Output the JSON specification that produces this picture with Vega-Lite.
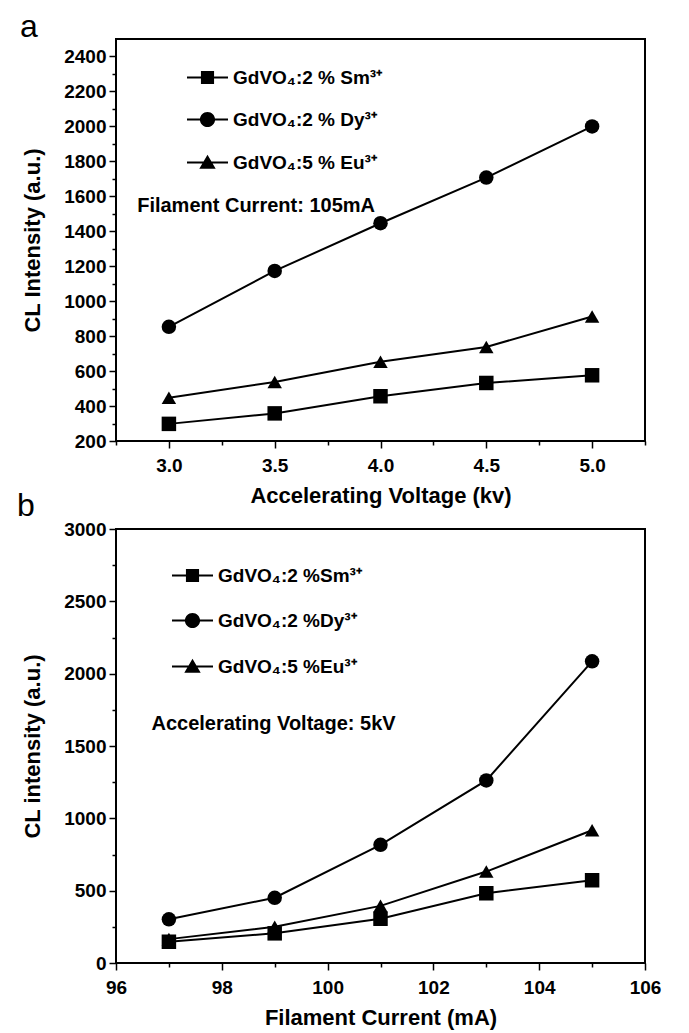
{
  "$schema": "https://vega.github.io/schema/vega-lite/v6.json",
  "background": "white",
  "padding": {"left": 16, "top": 10, "right": 10, "bottom": 2},
  "spacing": -18,
  "resolve": {"scale": {"shape": "independent"}, "legend": {"shape": "independent"}},
  "config": {
    "view": {"stroke": "black", "strokeWidth": 2},
    "axis": {"labelFont": "Liberation Sans", "labelFontWeight": "bold", "labelFontSize": 19, "labelColor": "black", "titleFont": "Liberation Sans", "titleFontWeight": "bold", "titleFontSize": 22, "titleColor": "black", "tickColor": "black", "tickWidth": 1.5, "domain": false, "grid": false, "labelOverlap": false, "labelFlush": false, "tickCount": 100},
    "title": {"font": "Liberation Sans", "fontSize": 32, "fontWeight": "normal", "color": "black"}
  },
  "datasets": {
    "a": [
      {"series": "Sm", "voltage_kv": 3.0, "intensity": 298},
      {"series": "Sm", "voltage_kv": 3.5, "intensity": 358},
      {"series": "Sm", "voltage_kv": 4.0, "intensity": 456},
      {"series": "Sm", "voltage_kv": 4.5, "intensity": 532},
      {"series": "Sm", "voltage_kv": 5.0, "intensity": 576},
      {"series": "Dy", "voltage_kv": 3.0, "intensity": 853},
      {"series": "Dy", "voltage_kv": 3.5, "intensity": 1173},
      {"series": "Dy", "voltage_kv": 4.0, "intensity": 1446},
      {"series": "Dy", "voltage_kv": 4.5, "intensity": 1707},
      {"series": "Dy", "voltage_kv": 5.0, "intensity": 2000},
      {"series": "Eu", "voltage_kv": 3.0, "intensity": 447},
      {"series": "Eu", "voltage_kv": 3.5, "intensity": 538},
      {"series": "Eu", "voltage_kv": 4.0, "intensity": 653},
      {"series": "Eu", "voltage_kv": 4.5, "intensity": 738},
      {"series": "Eu", "voltage_kv": 5.0, "intensity": 912}
    ],
    "b": [
      {"series": "Sm", "current_mA": 97, "intensity": 147},
      {"series": "Sm", "current_mA": 99, "intensity": 205},
      {"series": "Sm", "current_mA": 101, "intensity": 306},
      {"series": "Sm", "current_mA": 103, "intensity": 482},
      {"series": "Sm", "current_mA": 105, "intensity": 572},
      {"series": "Dy", "current_mA": 97, "intensity": 302},
      {"series": "Dy", "current_mA": 99, "intensity": 451},
      {"series": "Dy", "current_mA": 101, "intensity": 817},
      {"series": "Dy", "current_mA": 103, "intensity": 1262},
      {"series": "Dy", "current_mA": 105, "intensity": 2085},
      {"series": "Eu", "current_mA": 97, "intensity": 165},
      {"series": "Eu", "current_mA": 99, "intensity": 250},
      {"series": "Eu", "current_mA": 101, "intensity": 395},
      {"series": "Eu", "current_mA": 103, "intensity": 632},
      {"series": "Eu", "current_mA": 105, "intensity": 918}
    ]
  },
  "vconcat": [
    {
      "width": 529,
      "height": 402,
      "title": {"text": "a", "anchor": "start", "frame": "group", "dx": -96, "offset": -5},
      "resolve": {"scale": {"shape": "independent"}},
      "layer": [
        {
          "data": {"name": "a"},
          "mark": {"type": "line", "color": "black", "strokeWidth": 2},
          "encoding": {
            "x": {"field": "voltage_kv", "type": "quantitative", "scale": {"domain": [2.75, 5.25], "nice": false, "zero": false},
              "axis": {"title": "Accelerating Voltage (kv)", "tickCount": 100, "values": [2.75, 3, 3.25, 3.5, 3.75, 4, 4.25, 4.5, 4.75, 5, 5.25], "labelExpr": "(datum.value * 2) % 1 === 0 ? format(datum.value, '.1f') : ''", "labelFontSize": {"condition": {"test": "(datum.value * 2) % 1 === 0", "value": 19}, "value": 0}, "tickSize": {"condition": {"test": "(datum.value * 2) % 1 === 0", "value": 7}, "value": 4}, "labelPadding": 8, "titlePadding": 10, "labelOverlap": false}},
            "y": {"field": "intensity", "type": "quantitative", "scale": {"domain": [200, 2500], "nice": false, "zero": false},
              "axis": {"title": "CL Intensity (a.u.)", "tickCount": 100, "values": [200, 300, 400, 500, 600, 700, 800, 900, 1000, 1100, 1200, 1300, 1400, 1500, 1600, 1700, 1800, 1900, 2000, 2100, 2200, 2300, 2400], "format": "d", "labelExpr": "datum.value % 200 === 0 ? datum.label : ''", "labelFontSize": {"condition": {"test": "datum.value % 200 === 0", "value": 19}, "value": 0}, "tickSize": {"condition": {"test": "datum.value % 200 === 0", "value": 7}, "value": 4}, "labelPadding": 3, "titlePadding": 19, "labelOverlap": false}},
            "detail": {"field": "series"}
          }
        },
        {
          "data": {"name": "a"},
          "mark": {"type": "point", "filled": true, "color": "black", "opacity": 1, "size": 210},
          "encoding": {
            "x": {"field": "voltage_kv", "type": "quantitative"},
            "y": {"field": "intensity", "type": "quantitative"},
            "shape": {"field": "series", "type": "nominal", "scale": {"domain": ["Sm", "Dy", "Eu"], "range": ["square", "circle", "triangle-up"]}, "legend": null}
          }
        },
        {
          "data": {"name": "a"},
          "mark": {"type": "point", "filled": true, "color": "black", "opacity": 0, "size": 210},
          "encoding": {
            "x": {"field": "voltage_kv", "type": "quantitative"},
            "y": {"field": "intensity", "type": "quantitative"},
            "shape": {"field": "series", "type": "nominal",
              "scale": {"domain": ["Sm", "Dy", "Eu"], "range": ["M-1,-0.05H1V0.05H-1ZM-0.32,-0.32H0.32V0.32H-0.32Z", "M-1,-0.05H1V0.05H-1ZM0.37,0A0.37,0.37 0 1 1 -0.37,0A0.37,0.37 0 1 1 0.37,0Z", "M-1,-0.05H1V0.05H-1ZM0,-0.38L0.4,0.3H-0.4Z"]},
              "legend": {"title": null, "orient": "none", "legendX": 70, "legendY": 17, "symbolSize": 1681, "symbolOpacity": 1, "symbolFillColor": "black", "rowPadding": 10, "labelOffset": 4,
                "labelFont": "Liberation Sans", "labelFontWeight": "bold", "labelFontSize": 19, "labelColor": "black",
                "labelExpr": "datum.value === 'Sm' ? 'GdVO₄:2 % Sm³⁺' : datum.value === 'Dy' ? 'GdVO₄:2 % Dy³⁺' : 'GdVO₄:5 % Eu³⁺'"}}
          }
        },
        {
          "data": {"values": [{}]},
          "mark": {"type": "text", "align": "left", "baseline": "middle", "font": "Liberation Sans", "fontWeight": "bold", "fontSize": 20, "color": "black"},
          "encoding": {
            "x": {"datum": 2.85},
            "y": {"datum": 1545},
            "text": {"value": "Filament Current: 105mA"}
          }
        }
      ]
    },
    {
      "width": 529,
      "height": 434,
      "title": {"text": "b", "anchor": "start", "frame": "group", "dx": -99, "offset": -3},
      "resolve": {"scale": {"shape": "independent"}},
      "layer": [
        {
          "data": {"name": "b"},
          "mark": {"type": "line", "color": "black", "strokeWidth": 2},
          "encoding": {
            "x": {"field": "current_mA", "type": "quantitative", "scale": {"domain": [96, 106], "nice": false, "zero": false},
              "axis": {"title": "Filament Current (mA)", "tickCount": 100, "format": "d", "values": [96, 97, 98, 99, 100, 101, 102, 103, 104, 105, 106], "labelExpr": "datum.value % 2 === 0 ? datum.label : ''", "labelFontSize": {"condition": {"test": "datum.value % 2 === 0", "value": 19}, "value": 0}, "tickSize": {"condition": {"test": "datum.value % 2 === 0", "value": 7}, "value": 4}, "labelPadding": 8, "titlePadding": 10, "labelOverlap": false}},
            "y": {"field": "intensity", "type": "quantitative", "scale": {"domain": [0, 3000], "nice": false},
              "axis": {"title": "CL intensity (a.u.)", "tickCount": 100, "values": [0, 250, 500, 750, 1000, 1250, 1500, 1750, 2000, 2250, 2500, 2750, 3000], "format": "d", "labelExpr": "datum.value % 500 === 0 ? datum.label : ''", "labelFontSize": {"condition": {"test": "datum.value % 500 === 0", "value": 19}, "value": 0}, "tickSize": {"condition": {"test": "datum.value % 500 === 0", "value": 7}, "value": 4}, "labelPadding": 3, "titlePadding": 19, "labelOverlap": false}},
            "detail": {"field": "series"}
          }
        },
        {
          "data": {"name": "b"},
          "mark": {"type": "point", "filled": true, "color": "black", "opacity": 1, "size": 210},
          "encoding": {
            "x": {"field": "current_mA", "type": "quantitative"},
            "y": {"field": "intensity", "type": "quantitative"},
            "shape": {"field": "series", "type": "nominal", "scale": {"domain": ["Sm", "Dy", "Eu"], "range": ["square", "circle", "triangle-up"]}, "legend": null}
          }
        },
        {
          "data": {"name": "b"},
          "mark": {"type": "point", "filled": true, "color": "black", "opacity": 0, "size": 210},
          "encoding": {
            "x": {"field": "current_mA", "type": "quantitative"},
            "y": {"field": "intensity", "type": "quantitative"},
            "shape": {"field": "series", "type": "nominal",
              "scale": {"domain": ["Sm", "Dy", "Eu"], "range": ["M-1,-0.05H1V0.05H-1ZM-0.32,-0.32H0.32V0.32H-0.32Z", "M-1,-0.05H1V0.05H-1ZM0.37,0A0.37,0.37 0 1 1 -0.37,0A0.37,0.37 0 1 1 0.37,0Z", "M-1,-0.05H1V0.05H-1ZM0,-0.38L0.4,0.3H-0.4Z"]},
              "legend": {"title": null, "orient": "none", "legendX": 55, "legendY": 25, "symbolSize": 1681, "symbolOpacity": 1, "symbolFillColor": "black", "rowPadding": 13, "labelOffset": 4,
                "labelFont": "Liberation Sans", "labelFontWeight": "bold", "labelFontSize": 19, "labelColor": "black",
                "labelExpr": "datum.value === 'Sm' ? 'GdVO₄:2 %Sm³⁺' : datum.value === 'Dy' ? 'GdVO₄:2 %Dy³⁺' : 'GdVO₄:5 %Eu³⁺'"}}
          }
        },
        {
          "data": {"values": [{}]},
          "mark": {"type": "text", "align": "left", "baseline": "middle", "font": "Liberation Sans", "fontWeight": "bold", "fontSize": 20, "color": "black"},
          "encoding": {
            "x": {"datum": 96.67},
            "y": {"datum": 1650},
            "text": {"value": "Accelerating Voltage: 5kV"}
          }
        }
      ]
    }
  ]
}
